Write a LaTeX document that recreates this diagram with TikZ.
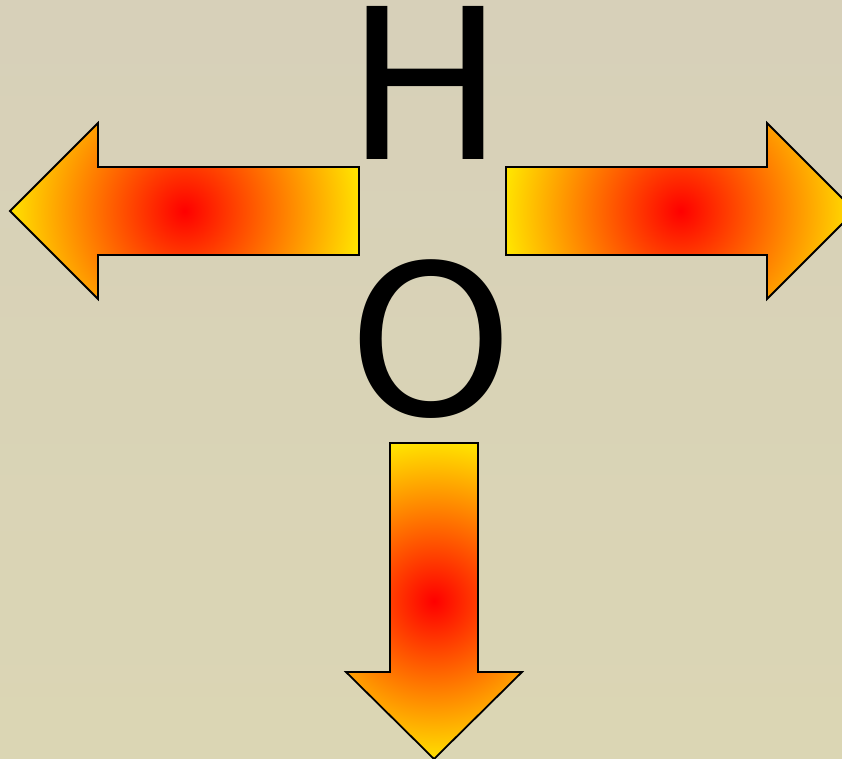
\documentclass[tikz,border=0pt]{standalone}
\usepackage{fontspec}
\setmainfont{DejaVu Sans}
\definecolor{bgtop}{RGB}{215,208,185}
\definecolor{bgbot}{RGB}{219,214,180}
\definecolor{hotyellow}{RGB}{255,226,0}
\definecolor{hotred}{RGB}{255,0,0}
\pgfdeclareradialshading{hotshade}{\pgfpoint{0bp}{0bp}}{color(0bp)=(hotred); color(12.5bp)=(hotyellow); color(50bp)=(hotyellow)}
\tikzset{
  hotarrow/.style={draw=black, line width=1.8pt, line join=miter,
    path picture={\shade[shading=hotshade] (path picture bounding box.center) circle (#1);}},
  bigletter/.style={font=\fontsize{210}{210}\selectfont, anchor=base, inner sep=0pt, text=black}
}
\begin{document}
\begin{tikzpicture}[x=1pt,y=-1pt]
\useasboundingbox (0,0) rectangle (842,759);
\clip (0,0) rectangle (842,759);
\shade[top color=bgtop, bottom color=bgbot] (0,0) rectangle (842,759);
% left arrow
\path[hotarrow=350pt] (10,211) -- (98,123) -- (98,167) -- (359,167) -- (359,255) -- (98,255) -- (98,299) -- cycle;
% right arrow
\path[hotarrow=350pt] (855,211) -- (767,123) -- (767,167) -- (506,167) -- (506,255) -- (767,255) -- (767,299) -- cycle;
% down arrow
\path[hotarrow=320pt] (434,759) -- (346,672) -- (390,672) -- (390,443) -- (478,443) -- (478,672) -- (522,672) -- cycle;
\node[bigletter] (H) at (425,160) {H};
\node[bigletter] (O) at (431,415) {O};
\end{tikzpicture}
\end{document}
